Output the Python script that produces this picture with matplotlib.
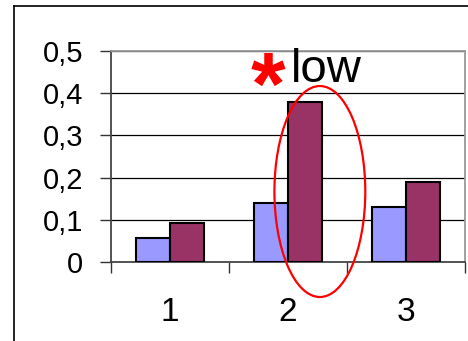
import matplotlib
matplotlib.use("Agg")
import matplotlib.pyplot as plt
from matplotlib.patches import Ellipse
from matplotlib.lines import Line2D
from matplotlib.ticker import FixedLocator, FuncFormatter

plt.rcParams['font.family'] = ['Liberation Sans', 'DejaVu Sans']

categories = ["1", "2", "3"]
series_a = [0.057, 0.14, 0.13]
series_b = [0.093, 0.38, 0.19]
y_ticks = [0, 0.1, 0.2, 0.3, 0.4, 0.5]
y_tick_labels = ["0", "0,1", "0,2", "0,3", "0,4", "0,5"]
note_text = "low"

fig = plt.figure(figsize=(4.68, 3.41), dpi=100)
fig.patch.set_facecolor("white")

# outer frame (left and top edges visible)
fig.add_artist(Line2D([13.5 / 468, 13.5 / 468], [0, 1 - 5.5 / 341],
                      transform=fig.transFigure, color="black", lw=1.2))
fig.add_artist(Line2D([13.5 / 468, 1], [1 - 5.5 / 341, 1 - 5.5 / 341],
                      transform=fig.transFigure, color="black", lw=1.2))

ax = fig.add_axes([111 / 468, 1 - 262 / 341, (465 - 111) / 468, (262 - 51) / 341])

x = [1, 2, 3]
w = 0.29
ax.bar([i - w / 2 for i in x], series_a, width=w, color="#9999FF",
       edgecolor="black", linewidth=1.5, zorder=3)
ax.bar([i + w / 2 for i in x], series_b, width=w, color="#993366",
       edgecolor="black", linewidth=1.5, zorder=3)

ax.set_xlim(0.5, 3.5)
ax.set_ylim(0, 0.5)

# horizontal gridlines
for t in y_ticks[1:]:
    ax.axhline(t, color="black", lw=0.9, zorder=1)

ax.set_yticks(y_ticks)
ax.set_yticklabels(y_tick_labels)
ax.tick_params(axis="y", direction="out", length=8, width=1, pad=12,
               labelsize=21, color="#333333")

# category boundaries carry tick marks; labels sit at category centres
ax.xaxis.set_major_locator(FixedLocator([0.5, 1.5, 2.5, 3.5]))
ax.xaxis.set_major_formatter(FuncFormatter(lambda v, p: ""))
ax.xaxis.set_minor_locator(FixedLocator(x))
ax.xaxis.set_minor_formatter(FuncFormatter(lambda v, p: categories[int(round(v)) - 1]))
ax.tick_params(axis="x", which="major", direction="out", length=8, width=1,
               color="#333333")
ax.tick_params(axis="x", which="minor", length=0, pad=25, labelsize=24)

for side in ["left", "bottom"]:
    ax.spines[side].set_color("#444444")
    ax.spines[side].set_linewidth(1.3)
for side in ["top", "right"]:
    ax.spines[side].set_color("#999999")
    ax.spines[side].set_linewidth(1.3)

# highlight around the tall bar of category 2
ax.add_patch(Ellipse((2.27, 0.167), 0.77, 0.5, fill=False, edgecolor="red",
                     lw=1.6, clip_on=False, zorder=4))
ax.text(2.025, 0.427, note_text, fontsize=34, ha="left", va="baseline",
        zorder=5, clip_on=False)
ax.text(1.83, 0.405, "*", fontsize=64, fontweight="bold", color="red",
        ha="center", va="center", zorder=5, clip_on=False)

fig.savefig("out.png", dpi=100)
